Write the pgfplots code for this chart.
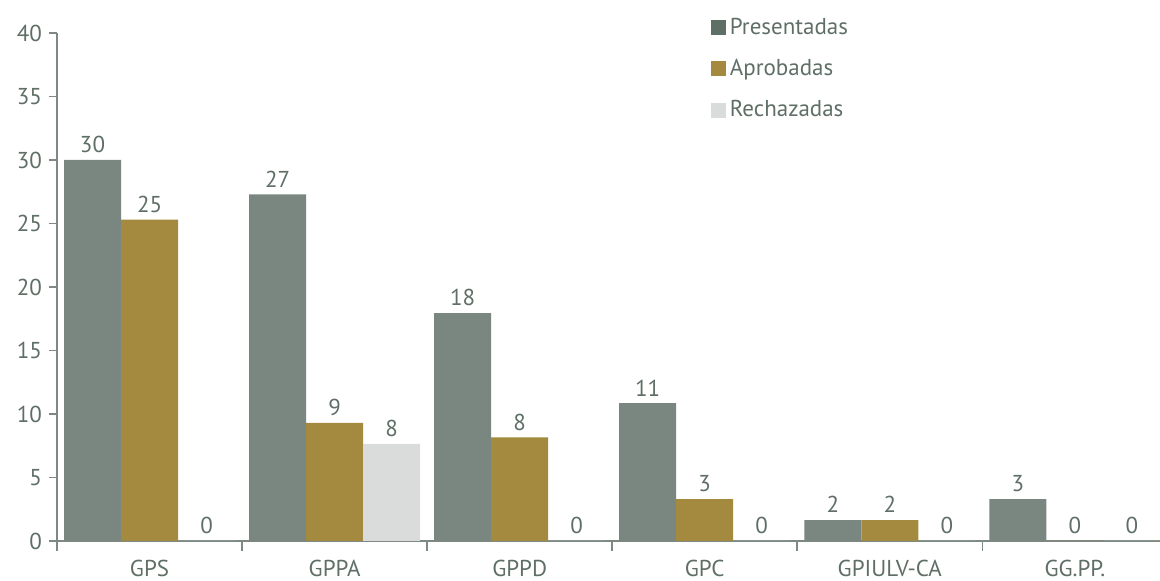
\documentclass[border=0pt]{standalone}
\usepackage{fontspec}
\setmainfont{PT Sans}
\usepackage{pgfplots}
\pgfplotsset{compat=1.18}

\definecolor{pres}{HTML}{7A8780}
\definecolor{presL}{HTML}{5E6F65}
\definecolor{apro}{HTML}{A38A3E}
\definecolor{rech}{HTML}{D9DCDB}
\definecolor{txt}{HTML}{5F6F66}
\definecolor{axiscol}{HTML}{7E8984}

\newcommand{\cfont}{\fontsize{11.5}{13}\selectfont}

\begin{document}
\begin{tikzpicture}
\begin{axis}[
  at={(0,0)}, anchor=south west,
  scale only axis, width=551.5pt, height=254pt,
  ybar=0pt, bar width=0.308,
  xmin=-0.5, xmax=5.46, ymin=0, ymax=40,
  enlarge x limits=false, enlarge y limits=false,
  xtick={0,...,5},
  xticklabels={GPS,GPPA,GPPD,GPC,GPIULV-CA,GG.PP.},
  minor xtick={-0.5,0.5,1.5,2.5,3.5,4.5},
  major x tick style={draw=none},
  ytick={0,5,...,40},
  axis x line*=bottom, axis y line*=left,
  axis line style={axiscol, line width=0.8pt, -},
  tick style={axiscol, line width=0.8pt},
  tick align=outside, major tick length=4pt, minor tick length=5pt,
  ticklabel style={text=txt, font=\cfont},
  x tick label style={yshift=-2pt},
  /pgf/number format/assume math mode=true,
  nodes near coords, point meta=explicit symbolic,
  nodes near coords style={text=txt, font=\cfont},
  legend style={at={(0.587,1.046)}, anchor=north west, draw=none, fill=none,
    font=\cfont, text=txt, row sep=7pt},
  legend cell align=left,
  clip=false,
]
\addplot[fill=pres, draw=none,
  legend image code/.code={\fill[presL] (0pt,-3.75pt) rectangle (7.5pt,3.75pt);}]
  coordinates {(0,30)[30] (1,27.3)[27] (2,17.95)[18] (3,10.85)[11] (4,1.65)[2] (5,3.3)[3]};
\addplot[fill=apro, draw=none,
  legend image code/.code={\fill[apro] (0pt,-3.75pt) rectangle (7.5pt,3.75pt);}]
  coordinates {(0,25.3)[25] (1,9.3)[9] (2,8.15)[8] (3,3.3)[3] (4,1.65)[2] (5,0)[0]};
\addplot[fill=rech, draw=none,
  legend image code/.code={\fill[rech] (0pt,-3.75pt) rectangle (7.5pt,3.75pt);}]
  coordinates {(0,0)[0] (1,7.65)[8] (2,0)[0] (3,0)[0] (4,0)[0] (5,0)[0]};
\legend{Presentadas,Aprobadas,Rechazadas}
\end{axis}
\pgfresetboundingbox
\path[use as bounding box] (-28.5pt,-20pt) rectangle (551.5pt,270.5pt);
\end{tikzpicture}
\end{document}
